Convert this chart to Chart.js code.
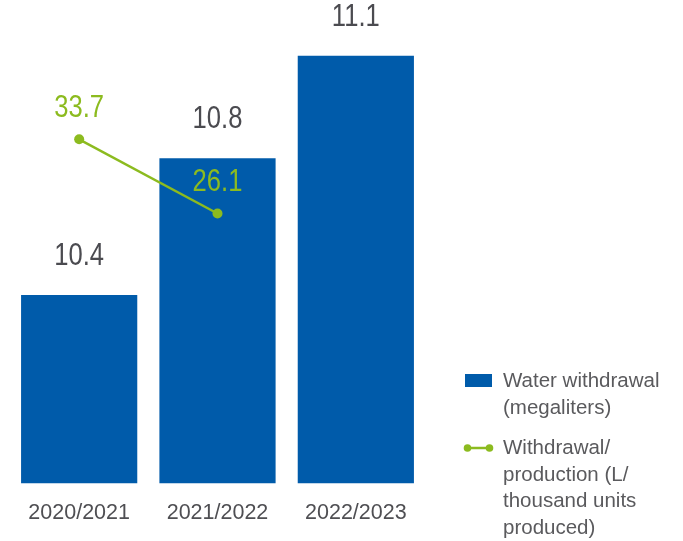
<!DOCTYPE html>
<html>
<head>
<meta charset="utf-8">
<script src="https://cdn.jsdelivr.net/npm/chart.js@4/dist/chart.umd.min.js"></script>
<style>
  html, body { margin: 0; padding: 0; background: #ffffff; overflow: hidden; }
  #wrap { position: relative; width: 683px; height: 541px; overflow: hidden; }
  #c { position: absolute; left: 0; top: 0; }
  .lg { position: absolute; font-family: 'Liberation Sans', Arial, sans-serif; font-size: 20.5px; line-height: 26.5px; color: #5a5a5d; }
  .sw { position: absolute; }
</style>
</head>
<body>
<div id="wrap">
  <canvas id="c" width="683" height="543"></canvas>
  <div class="sw" style="left:465px; top:374px; width:27px; height:13px; background:#005BAA;"></div>
  <div class="lg" style="left:503px; top:367px;">Water withdrawal<br>(megaliters)</div>
  <svg class="sw" style="left:463px; top:441px;" width="32" height="14">
    <line x1="4" y1="7" x2="27" y2="7" stroke="#8CBB1F" stroke-width="2.5"/>
    <circle cx="4.5" cy="7" r="3.8" fill="#8CBB1F"/>
    <circle cx="26.5" cy="7" r="3.8" fill="#8CBB1F"/>
  </svg>
  <div class="lg" style="left:503px; top:434px;">Withdrawal/<br>production (L/<br>thousand units<br>produced)</div>
</div>
<script>
const categories = ['2020/2021', '2021/2022', '2022/2023'];
const waterWithdrawal = [10.4, 10.8, 11.1];
const withdrawalPerProduction = [33.7, 26.1, null];

const BLUE = '#005BAA';
const GREEN = '#8CBB1F';
const GRAY = '#4b4b50';
const LABEL_FONT = "32px 'Liberation Sans', Arial, sans-serif";
const NARROW = 0.8;

const valueLabels = {
  id: 'valueLabels',
  afterDatasetsDraw(chart) {
    const ctx = chart.ctx;
    chart.data.datasets.forEach((ds, di) => {
      const meta = chart.getDatasetMeta(di);
      meta.data.forEach((el, i) => {
        const v = ds.data[i];
        if (v === null || v === undefined) return;
        let x, y, color;
        if (ds.type === 'bar') {
          x = el.x; y = el.y - 39; color = GRAY;
        } else {
          x = chart.scales.x.getPixelForValue(i); y = el.y - 31; color = GREEN;
        }
        ctx.save();
        ctx.translate(x, y);
        ctx.scale(NARROW, 1);
        ctx.font = LABEL_FONT;
        ctx.textAlign = 'center';
        ctx.textBaseline = 'middle';
        ctx.fillStyle = color;
        ctx.fillText(v.toFixed(1), 0, 0);
        ctx.restore();
      });
    });
  }
};

new Chart(document.getElementById('c'), {
  data: {
    labels: categories,
    datasets: [
      {
        type: 'line',
        label: 'Withdrawal/production (L/thousand units produced)',
        data: withdrawalPerProduction,
        yAxisID: 'y1',
        borderColor: GREEN,
        backgroundColor: GREEN,
        borderWidth: 2.4,
        pointRadius: 5,
        pointHoverRadius: 5,
        pointBackgroundColor: GREEN,
        pointBorderWidth: 0,
        tension: 0,
        order: 0
      },
      {
        type: 'bar',
        label: 'Water withdrawal (megaliters)',
        data: waterWithdrawal,
        yAxisID: 'y',
        backgroundColor: BLUE,
        borderWidth: 0,
        categoryPercentage: 0.84,
        barPercentage: 1.0,
        order: 1
      }
    ]
  },
  options: {
    responsive: false,
    animation: false,
    events: [],
    layout: { padding: { left: 10, right: 258, top: 10, bottom: 0 } },
    plugins: { legend: { display: false }, tooltip: { enabled: false } },
    scales: {
      x: {
        grid: { display: false, drawTicks: false, tickLength: 0 },
        border: { display: false },
        ticks: {
          color: '#4f4f53',
          font: { family: "'Liberation Sans', Arial, sans-serif", size: 21.5 },
          padding: 17
        }
      },
      y: {
        display: false,
        min: 9.849,
        max: 11.234
      },
      y1: {
        display: false,
        min: -1.53,
        max: 46.95
      }
    }
  },
  plugins: [valueLabels]
});
</script>
</body>
</html>
